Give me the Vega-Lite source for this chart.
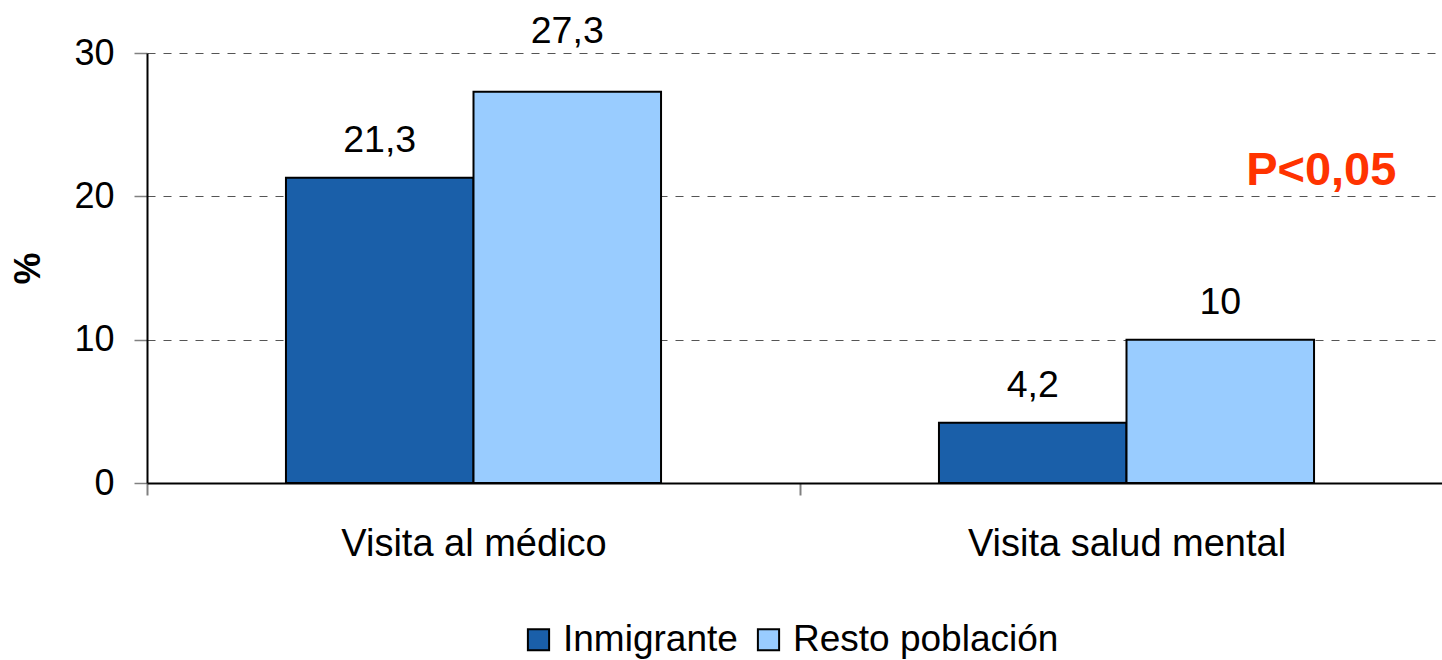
{
  "$schema": "https://vega.github.io/schema/vega-lite/v6.json",
  "width": 1306,
  "height": 430,
  "autosize": "none",
  "padding": {"left": 147, "top": 53, "right": 0, "bottom": 177},
  "background": "white",
  "config": {
    "view": {"stroke": null},
    "font": "Liberation Sans",
    "locale": {"number": {"decimal": ",", "thousands": ".", "grouping": [3], "currency": ["", " €"]}}
  },
  "data": {
    "values": [
      {"categoria": "Visita al médico", "grupo": "Inmigrante", "valor": 21.3},
      {"categoria": "Visita al médico", "grupo": "Resto población", "valor": 27.3},
      {"categoria": "Visita salud mental", "grupo": "Inmigrante", "valor": 4.2},
      {"categoria": "Visita salud mental", "grupo": "Resto población", "valor": 10}
    ]
  },
  "encoding": {
    "x": {
      "field": "categoria", "type": "nominal", "sort": null,
      "scale": {"paddingInner": 0, "paddingOuter": 0},
      "axis": {
        "title": null, "labelAngle": 0, "labelFontSize": 38, "labelColor": "black", "labelLimit": 0,
        "tickBand": "extent", "tickSize": 12, "tickColor": "#808080", "tickWidth": 2,
        "domainColor": "black", "domainWidth": 2, "labelPadding": 30
      }
    },
    "xOffset": {
      "field": "grupo", "type": "nominal", "sort": ["Inmigrante", "Resto población"],
      "scale": {"paddingInner": 0, "paddingOuter": 0.741}
    },
    "y": {
      "field": "valor", "type": "quantitative",
      "scale": {"domain": [0, 30]},
      "axis": {
        "title": "%", "titleFontSize": 36, "titleFontWeight": "bold", "titleColor": "black",
        "titlePadding": 26, "values": [0, 10, 20, 30],
        "labelFontSize": 36, "labelColor": "black", "labelPadding": 20,
        "tickSize": 13, "tickColor": "#808080", "tickWidth": 1.5,
        "domainColor": "black", "domainWidth": 2,
        "grid": true, "gridColor": "#555555", "gridDash": [8, 8], "gridWidth": 1.2
      }
    }
  },
  "layer": [
    {
      "mark": {"type": "bar", "stroke": "black", "strokeWidth": 2},
      "encoding": {
        "color": {
          "field": "grupo", "type": "nominal",
          "scale": {"domain": ["Inmigrante", "Resto población"], "range": ["#1A5FA9", "#99CCFF"]},
          "legend": {
            "title": null, "orient": "none", "direction": "horizontal",
            "legendX": 373, "legendY": 568,
            "symbolType": "square", "symbolSize": 450, "symbolStrokeColor": "black", "symbolStrokeWidth": 2,
            "labelFontSize": 37, "labelColor": "black", "labelLimit": 0, "columnPadding": 12, "labelOffset": 6
          }
        }
      }
    },
    {
      "transform": [{"filter": "datum.valor != 27.3"}],
      "mark": {"type": "text", "fontSize": 37.5, "baseline": "alphabetic", "dy": -26, "color": "black"},
      "encoding": {
        "text": {"field": "valor", "type": "quantitative", "format": "~r"}
      }
    },
    {
      "transform": [{"filter": "datum.valor == 27.3"}],
      "mark": {"type": "text", "fontSize": 37.5, "baseline": "alphabetic", "dy": -49, "color": "black"},
      "encoding": {
        "text": {"field": "valor", "type": "quantitative", "format": "~r"}
      }
    },
    {
      "data": {"values": [{"categoria": "Visita salud mental", "grupo": "Resto población", "valor": 21.8, "texto": "P<0,05"}]},
      "mark": {"type": "text", "fontSize": 47, "fontWeight": "bold", "color": "#FF3300", "baseline": "middle", "dx": 101},
      "encoding": {"text": {"field": "texto"}}
    }
  ]
}
